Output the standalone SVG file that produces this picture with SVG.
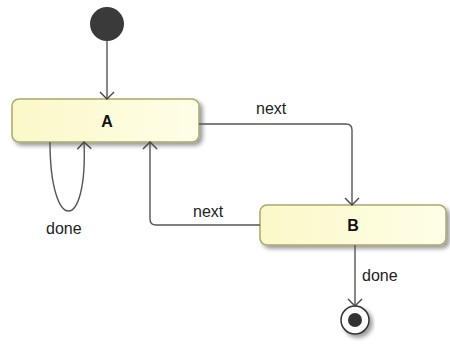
<svg xmlns="http://www.w3.org/2000/svg" width="450" height="347" viewBox="0 0 450 347">
<defs>
<linearGradient id="g" x1="0" y1="0" x2="1" y2="0">
<stop offset="0" stop-color="#fbf8c8"/>
<stop offset="1" stop-color="#fefee8"/>
</linearGradient>
<filter id="sh" x="-10%" y="-20%" width="130%" height="160%">
<feGaussianBlur in="SourceAlpha" stdDeviation="2"/>
<feOffset dx="3" dy="3" result="b"/>
<feComponentTransfer><feFuncA type="linear" slope="0.4"/></feComponentTransfer>
<feMerge><feMergeNode/><feMergeNode in="SourceGraphic"/></feMerge>
</filter>
<marker id="arr" markerWidth="16" markerHeight="16" refX="8" refY="8" orient="auto" markerUnits="userSpaceOnUse">
<path d="M1,1 L8,8 L1,15" fill="none" stroke="#444" stroke-width="1.4"/>
</marker>
</defs>
<style>
.st{fill:url(#g);stroke:#a9a86e;stroke-width:1.5;filter:url(#sh)}
.c{fill:none;stroke:#555;stroke-width:1.4}
.lbl{font-family:"Liberation Sans",Arial,sans-serif;font-size:16px;fill:#222}
.nm{font-family:"Liberation Sans",Arial,sans-serif;font-size:16px;font-weight:bold;fill:#111}
</style>
<rect width="450" height="347" fill="#fff"/>
<g id="start"><circle cx="107" cy="24" r="17" fill="#3a3a3a"/></g>
<g id="A"><rect class="st" x="12" y="99" width="187" height="43" rx="7"/><text class="nm" x="107" y="127" text-anchor="middle">A</text></g>
<g id="B"><rect class="st" x="260" y="205" width="186" height="40" rx="7"/><text class="nm" x="353" y="231" text-anchor="middle">B</text></g>
<g id="end"><circle cx="355" cy="320" r="14" fill="#fff" stroke="#333" stroke-width="1.5" filter="url(#sh)"/><circle cx="355" cy="320" r="7" fill="#333"/></g>
<g id="connectors">
<path class="c" d="M107,41 V99" marker-end="url(#arr)"/>
<path class="c" d="M50,142 C50,234 88,234 84,142" marker-end="url(#arr)"/>
<path class="c" d="M199,124 H346 Q352,124 352,130 V205" marker-end="url(#arr)"/>
<path class="c" d="M260,225 H156 Q150,225 150,219 V142" marker-end="url(#arr)"/>
<path class="c" d="M355,245 V306" marker-end="url(#arr)"/>
<text class="lbl" x="256" y="114">next</text>
<text class="lbl" x="193" y="217">next</text>
<text class="lbl" x="46" y="234">done</text>
<text class="lbl" x="362" y="281">done</text>
</g>
</svg>
